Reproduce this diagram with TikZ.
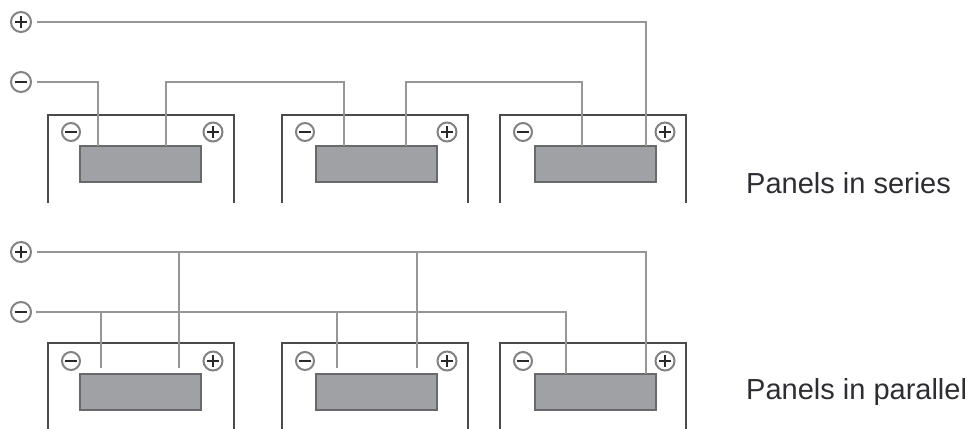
\documentclass[tikz,border=0pt]{standalone}
\usepackage{fontspec}
\setmainfont{Liberation Sans}
\definecolor{wire}{RGB}{150,150,150}
\definecolor{boxline}{RGB}{75,75,75}
\definecolor{cellfill}{RGB}{160,161,165}
\definecolor{celledge}{RGB}{105,105,108}
\definecolor{symring}{RGB}{130,130,130}
\definecolor{symbar}{RGB}{40,40,40}
\definecolor{txt}{RGB}{45,45,50}
\begin{document}
\begin{tikzpicture}[x=1pt,y=-1pt,
  wireline/.style={draw=wire,line width=1.3pt},
  panelbox/.style={draw=boxline,line width=1.6pt},
  cell/.style={rectangle,fill=cellfill,draw=celledge,line width=1.2pt,minimum width=121pt,minimum height=36pt,inner sep=0pt},
  plussym/.style={circle,draw=symring,line width=2pt,minimum size=#1,inner sep=0pt,
    path picture={\draw[symbar,line width=2.2pt] ([xshift=-0.3*#1]path picture bounding box.center) -- ([xshift=0.3*#1]path picture bounding box.center);
                  \draw[symbar,line width=2.2pt] ([yshift=-0.3*#1]path picture bounding box.center) -- ([yshift=0.3*#1]path picture bounding box.center);}},
  minussym/.style={circle,draw=symring,line width=2pt,minimum size=#1,inner sep=0pt,
    path picture={\draw[symbar,line width=2.4pt] ([xshift=-0.32*#1]path picture bounding box.center) -- ([xshift=0.32*#1]path picture bounding box.center);}},
  label/.style={anchor=base west,text=txt,font=\fontsize{29}{34}\selectfont,inner sep=0pt}
]
\useasboundingbox (0,0) rectangle (971,428);

% ---------------- Series ----------------
\node[plussym=20pt] (sp) at (21,22) {};
\node[minussym=20pt] (sn) at (21,82) {};
\foreach \i/\bx/\cx in {1/48/140.5,2/282/376.5,3/500/595.5}{
  \draw[panelbox] (\bx,203) -- (\bx,115) -- ({\bx+186},115) -- ({\bx+186},203);
  \node[cell] (sc\i) at (\cx,164) {};
  \node[minussym=18pt] (sm\i) at ({\bx+23},132) {};
  \node[plussym=19pt] (spl\i) at ({\bx+165},132) {};
}
\coordinate (s1a) at (98,146);
\coordinate (s1b) at (166,146);
\coordinate (s2a) at (344,146);
\coordinate (s2b) at (406,146);
\coordinate (s3a) at (582,146);
\coordinate (s3b) at (646,146);
\draw[wireline] ([xshift=5pt]sn.east) -| (s1a);
\draw[wireline] (s1b) |- (s2a |- 0,82) -- (s2a);
\draw[wireline] (s2b) |- (s3a |- 0,82) -- (s3a);
\draw[wireline] ([xshift=5pt]sp.east) -| (s3b);
\node[label] (lser) at (746,193) {Panels in series};

% ---------------- Parallel ----------------
\node[plussym=20pt] (pp) at (21,252) {};
\node[minussym=20pt] (pn) at (21,312) {};
\foreach \i/\bx/\cx in {1/48/140.5,2/282/376.5,3/500/595.5}{
  \draw[panelbox] (\bx,430) -- (\bx,343) -- ({\bx+186},343) -- ({\bx+186},430);
  \node[cell] (pc\i) at (\cx,392) {};
  \node[minussym=18pt] (pm\i) at ({\bx+23},361) {};
  \node[plussym=19pt] (ppl\i) at ({\bx+165},361) {};
}
\coordinate (p1a) at (101,368);
\coordinate (p1b) at (179,368);
\coordinate (p2a) at (337,368);
\coordinate (p2b) at (417,368);
\coordinate (p3a) at (566,374);
\coordinate (p3b) at (646,374);
\draw[wireline] ([xshift=5pt]pp.east) -| (p3b);
\draw[wireline] ([xshift=4pt]pn.east) -| (p3a);
\draw[wireline] (p1a |- 0,312) -- (p1a);
\draw[wireline] (p2a |- 0,312) -- (p2a);
\draw[wireline] (p1b |- 0,252) -- (p1b);
\draw[wireline] (p2b |- 0,252) -- (p2b);
\node[label] (lpar) at (746,399) {Panels in parallel};
\end{tikzpicture}
\end{document}
